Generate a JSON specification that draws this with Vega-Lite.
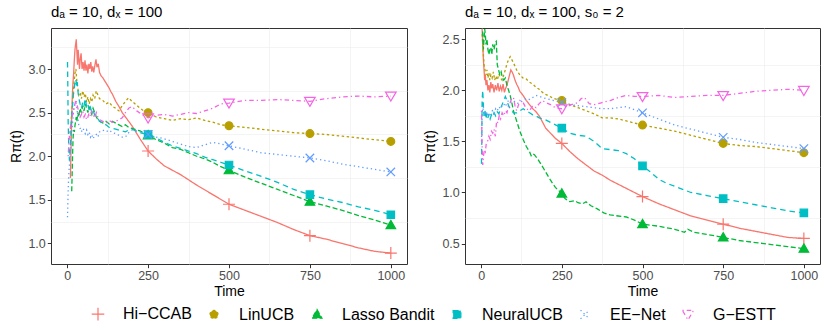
{
"$schema": "https://vega.github.io/schema/vega-lite/v6.json",
"padding": {"left": 9, "top": 4, "right": 5, "bottom": 4},
"config": {
  "font": "Liberation Sans",
  "view": {"stroke": "#333333", "strokeWidth": 1},
  "axis": {"domain": false, "labelColor": "#4D4D4D", "labelFontSize": 12.5, "labelPadding": 2, "tickColor": "#333333", "tickSize": 3.7, "tickWidth": 1, "gridColor": "#EBEBEB", "gridWidth": 1.1, "titleFontSize": 14, "titleFontWeight": "normal", "titleColor": "#000000"},
  "title": {"fontSize": 15, "fontWeight": "normal", "color": "#000000", "anchor": "start", "frame": "group", "offset": 8},
  "legend": {"labelFontSize": 16, "labelColor": "#000000", "symbolStrokeWidth": 1.2, "symbolSize": 55, "labelOffset": 17, "columnPadding": 14}
},
"datasets": {"d": [
{"p":"a","m":"Hi−CCAB","t":10,"r":1.75},{"p":"a","m":"Hi−CCAB","t":12,"r":2.1},{"p":"a","m":"Hi−CCAB","t":14,"r":2.45},{"p":"a","m":"Hi−CCAB","t":16,"r":2.7},{"p":"a","m":"Hi−CCAB","t":18,"r":2.85},{"p":"a","m":"Hi−CCAB","t":20,"r":2.95},{"p":"a","m":"Hi−CCAB","t":22,"r":3.1},{"p":"a","m":"Hi−CCAB","t":24,"r":3.22},{"p":"a","m":"Hi−CCAB","t":26,"r":3.28},{"p":"a","m":"Hi−CCAB","t":28,"r":3.34},{"p":"a","m":"Hi−CCAB","t":30,"r":3.2},{"p":"a","m":"Hi−CCAB","t":32,"r":3.05},{"p":"a","m":"Hi−CCAB","t":34,"r":3.22},{"p":"a","m":"Hi−CCAB","t":36,"r":3.12},{"p":"a","m":"Hi−CCAB","t":38,"r":3.0},{"p":"a","m":"Hi−CCAB","t":40,"r":3.1},{"p":"a","m":"Hi−CCAB","t":43,"r":3.18},{"p":"a","m":"Hi−CCAB","t":46,"r":3.0},{"p":"a","m":"Hi−CCAB","t":49,"r":3.08},{"p":"a","m":"Hi−CCAB","t":52,"r":2.98},{"p":"a","m":"Hi−CCAB","t":55,"r":3.1},{"p":"a","m":"Hi−CCAB","t":58,"r":2.98},{"p":"a","m":"Hi−CCAB","t":61,"r":3.05},{"p":"a","m":"Hi−CCAB","t":64,"r":2.95},{"p":"a","m":"Hi−CCAB","t":67,"r":3.06},{"p":"a","m":"Hi−CCAB","t":70,"r":3.0},{"p":"a","m":"Hi−CCAB","t":73,"r":3.08},{"p":"a","m":"Hi−CCAB","t":76,"r":2.97},{"p":"a","m":"Hi−CCAB","t":79,"r":3.03},{"p":"a","m":"Hi−CCAB","t":82,"r":2.96},{"p":"a","m":"Hi−CCAB","t":86,"r":3.05},{"p":"a","m":"Hi−CCAB","t":89,"r":3.11},{"p":"a","m":"Hi−CCAB","t":92,"r":3.02},{"p":"a","m":"Hi−CCAB","t":96,"r":3.06},{"p":"a","m":"Hi−CCAB","t":100,"r":2.96},{"p":"a","m":"Hi−CCAB","t":105,"r":2.92},{"p":"a","m":"Hi−CCAB","t":110,"r":2.9},{"p":"a","m":"Hi−CCAB","t":115,"r":2.87},{"p":"a","m":"Hi−CCAB","t":120,"r":2.84},{"p":"a","m":"Hi−CCAB","t":125,"r":2.81},{"p":"a","m":"Hi−CCAB","t":130,"r":2.78},{"p":"a","m":"Hi−CCAB","t":135,"r":2.74},{"p":"a","m":"Hi−CCAB","t":140,"r":2.71},{"p":"a","m":"Hi−CCAB","t":145,"r":2.67},{"p":"a","m":"Hi−CCAB","t":150,"r":2.63},{"p":"a","m":"Hi−CCAB","t":160,"r":2.57},{"p":"a","m":"Hi−CCAB","t":170,"r":2.5},{"p":"a","m":"Hi−CCAB","t":180,"r":2.45},{"p":"a","m":"Hi−CCAB","t":190,"r":2.4},{"p":"a","m":"Hi−CCAB","t":200,"r":2.35},{"p":"a","m":"Hi−CCAB","t":225,"r":2.2},{"p":"a","m":"Hi−CCAB","t":250,"r":2.06},{"p":"a","m":"Hi−CCAB","t":275,"r":1.97},{"p":"a","m":"Hi−CCAB","t":300,"r":1.89},{"p":"a","m":"Hi−CCAB","t":325,"r":1.84},{"p":"a","m":"Hi−CCAB","t":350,"r":1.79},{"p":"a","m":"Hi−CCAB","t":375,"r":1.73},{"p":"a","m":"Hi−CCAB","t":400,"r":1.67},{"p":"a","m":"Hi−CCAB","t":450,"r":1.56},{"p":"a","m":"Hi−CCAB","t":500,"r":1.45},{"p":"a","m":"Hi−CCAB","t":550,"r":1.38},{"p":"a","m":"Hi−CCAB","t":600,"r":1.31},{"p":"a","m":"Hi−CCAB","t":650,"r":1.24},{"p":"a","m":"Hi−CCAB","t":700,"r":1.16},{"p":"a","m":"Hi−CCAB","t":750,"r":1.09},{"p":"a","m":"Hi−CCAB","t":800,"r":1.05},{"p":"a","m":"Hi−CCAB","t":850,"r":1.0},{"p":"a","m":"Hi−CCAB","t":900,"r":0.95},{"p":"a","m":"Hi−CCAB","t":950,"r":0.91},{"p":"a","m":"Hi−CCAB","t":1000,"r":0.89},
{"p":"a","m":"LinUCB","t":8,"r":2.2},{"p":"a","m":"LinUCB","t":12,"r":2.4},{"p":"a","m":"LinUCB","t":16,"r":2.6},{"p":"a","m":"LinUCB","t":20,"r":2.8},{"p":"a","m":"LinUCB","t":24,"r":2.95},{"p":"a","m":"LinUCB","t":27,"r":3.0},{"p":"a","m":"LinUCB","t":30,"r":2.85},{"p":"a","m":"LinUCB","t":33,"r":2.78},{"p":"a","m":"LinUCB","t":36,"r":2.7},{"p":"a","m":"LinUCB","t":40,"r":2.73},{"p":"a","m":"LinUCB","t":44,"r":2.66},{"p":"a","m":"LinUCB","t":48,"r":2.75},{"p":"a","m":"LinUCB","t":52,"r":2.68},{"p":"a","m":"LinUCB","t":56,"r":2.72},{"p":"a","m":"LinUCB","t":60,"r":2.62},{"p":"a","m":"LinUCB","t":64,"r":2.68},{"p":"a","m":"LinUCB","t":68,"r":2.6},{"p":"a","m":"LinUCB","t":72,"r":2.66},{"p":"a","m":"LinUCB","t":76,"r":2.62},{"p":"a","m":"LinUCB","t":80,"r":2.7},{"p":"a","m":"LinUCB","t":85,"r":2.66},{"p":"a","m":"LinUCB","t":90,"r":2.75},{"p":"a","m":"LinUCB","t":95,"r":2.7},{"p":"a","m":"LinUCB","t":100,"r":2.66},{"p":"a","m":"LinUCB","t":110,"r":2.64},{"p":"a","m":"LinUCB","t":120,"r":2.6},{"p":"a","m":"LinUCB","t":130,"r":2.62},{"p":"a","m":"LinUCB","t":140,"r":2.57},{"p":"a","m":"LinUCB","t":150,"r":2.55},{"p":"a","m":"LinUCB","t":160,"r":2.52},{"p":"a","m":"LinUCB","t":170,"r":2.58},{"p":"a","m":"LinUCB","t":180,"r":2.63},{"p":"a","m":"LinUCB","t":190,"r":2.67},{"p":"a","m":"LinUCB","t":200,"r":2.63},{"p":"a","m":"LinUCB","t":210,"r":2.6},{"p":"a","m":"LinUCB","t":225,"r":2.55},{"p":"a","m":"LinUCB","t":240,"r":2.51},{"p":"a","m":"LinUCB","t":250,"r":2.5},{"p":"a","m":"LinUCB","t":275,"r":2.45},{"p":"a","m":"LinUCB","t":300,"r":2.43},{"p":"a","m":"LinUCB","t":325,"r":2.41},{"p":"a","m":"LinUCB","t":350,"r":2.43},{"p":"a","m":"LinUCB","t":375,"r":2.42},{"p":"a","m":"LinUCB","t":400,"r":2.44},{"p":"a","m":"LinUCB","t":425,"r":2.41},{"p":"a","m":"LinUCB","t":450,"r":2.39},{"p":"a","m":"LinUCB","t":475,"r":2.36},{"p":"a","m":"LinUCB","t":500,"r":2.35},{"p":"a","m":"LinUCB","t":550,"r":2.33},{"p":"a","m":"LinUCB","t":600,"r":2.31},{"p":"a","m":"LinUCB","t":650,"r":2.29},{"p":"a","m":"LinUCB","t":700,"r":2.27},{"p":"a","m":"LinUCB","t":750,"r":2.26},{"p":"a","m":"LinUCB","t":800,"r":2.25},{"p":"a","m":"LinUCB","t":850,"r":2.23},{"p":"a","m":"LinUCB","t":900,"r":2.21},{"p":"a","m":"LinUCB","t":950,"r":2.19},{"p":"a","m":"LinUCB","t":1000,"r":2.17},
{"p":"a","m":"Lasso Bandit","t":14,"r":1.6},{"p":"a","m":"Lasso Bandit","t":16,"r":1.9},{"p":"a","m":"Lasso Bandit","t":18,"r":2.2},{"p":"a","m":"Lasso Bandit","t":20,"r":2.3},{"p":"a","m":"Lasso Bandit","t":22,"r":2.28},{"p":"a","m":"Lasso Bandit","t":24,"r":2.35},{"p":"a","m":"Lasso Bandit","t":26,"r":2.4},{"p":"a","m":"Lasso Bandit","t":28,"r":2.45},{"p":"a","m":"Lasso Bandit","t":30,"r":2.4},{"p":"a","m":"Lasso Bandit","t":33,"r":2.5},{"p":"a","m":"Lasso Bandit","t":36,"r":2.45},{"p":"a","m":"Lasso Bandit","t":40,"r":2.55},{"p":"a","m":"Lasso Bandit","t":44,"r":2.5},{"p":"a","m":"Lasso Bandit","t":48,"r":2.58},{"p":"a","m":"Lasso Bandit","t":52,"r":2.52},{"p":"a","m":"Lasso Bandit","t":56,"r":2.6},{"p":"a","m":"Lasso Bandit","t":60,"r":2.55},{"p":"a","m":"Lasso Bandit","t":64,"r":2.5},{"p":"a","m":"Lasso Bandit","t":68,"r":2.57},{"p":"a","m":"Lasso Bandit","t":72,"r":2.52},{"p":"a","m":"Lasso Bandit","t":76,"r":2.48},{"p":"a","m":"Lasso Bandit","t":80,"r":2.55},{"p":"a","m":"Lasso Bandit","t":85,"r":2.5},{"p":"a","m":"Lasso Bandit","t":90,"r":2.45},{"p":"a","m":"Lasso Bandit","t":95,"r":2.42},{"p":"a","m":"Lasso Bandit","t":100,"r":2.4},{"p":"a","m":"Lasso Bandit","t":110,"r":2.38},{"p":"a","m":"Lasso Bandit","t":120,"r":2.4},{"p":"a","m":"Lasso Bandit","t":130,"r":2.37},{"p":"a","m":"Lasso Bandit","t":140,"r":2.4},{"p":"a","m":"Lasso Bandit","t":150,"r":2.38},{"p":"a","m":"Lasso Bandit","t":160,"r":2.36},{"p":"a","m":"Lasso Bandit","t":170,"r":2.34},{"p":"a","m":"Lasso Bandit","t":180,"r":2.36},{"p":"a","m":"Lasso Bandit","t":190,"r":2.33},{"p":"a","m":"Lasso Bandit","t":200,"r":2.32},{"p":"a","m":"Lasso Bandit","t":225,"r":2.29},{"p":"a","m":"Lasso Bandit","t":250,"r":2.24},{"p":"a","m":"Lasso Bandit","t":275,"r":2.19},{"p":"a","m":"Lasso Bandit","t":300,"r":2.15},{"p":"a","m":"Lasso Bandit","t":325,"r":2.1},{"p":"a","m":"Lasso Bandit","t":350,"r":2.08},{"p":"a","m":"Lasso Bandit","t":375,"r":2.04},{"p":"a","m":"Lasso Bandit","t":400,"r":2.0},{"p":"a","m":"Lasso Bandit","t":425,"r":1.97},{"p":"a","m":"Lasso Bandit","t":450,"r":1.93},{"p":"a","m":"Lasso Bandit","t":475,"r":1.88},{"p":"a","m":"Lasso Bandit","t":500,"r":1.84},{"p":"a","m":"Lasso Bandit","t":550,"r":1.76},{"p":"a","m":"Lasso Bandit","t":600,"r":1.69},{"p":"a","m":"Lasso Bandit","t":650,"r":1.62},{"p":"a","m":"Lasso Bandit","t":700,"r":1.55},{"p":"a","m":"Lasso Bandit","t":750,"r":1.48},{"p":"a","m":"Lasso Bandit","t":800,"r":1.43},{"p":"a","m":"Lasso Bandit","t":850,"r":1.38},{"p":"a","m":"Lasso Bandit","t":900,"r":1.32},{"p":"a","m":"Lasso Bandit","t":950,"r":1.27},{"p":"a","m":"Lasso Bandit","t":1000,"r":1.21},
{"p":"a","m":"NeuralUCB","t":1,"r":3.08},{"p":"a","m":"NeuralUCB","t":2,"r":2.8},{"p":"a","m":"NeuralUCB","t":3,"r":2.4},{"p":"a","m":"NeuralUCB","t":5,"r":2.1},{"p":"a","m":"NeuralUCB","t":7,"r":1.95},{"p":"a","m":"NeuralUCB","t":9,"r":2.05},{"p":"a","m":"NeuralUCB","t":11,"r":2.2},{"p":"a","m":"NeuralUCB","t":13,"r":2.35},{"p":"a","m":"NeuralUCB","t":15,"r":2.5},{"p":"a","m":"NeuralUCB","t":17,"r":2.6},{"p":"a","m":"NeuralUCB","t":19,"r":2.7},{"p":"a","m":"NeuralUCB","t":21,"r":2.75},{"p":"a","m":"NeuralUCB","t":23,"r":2.82},{"p":"a","m":"NeuralUCB","t":25,"r":2.86},{"p":"a","m":"NeuralUCB","t":27,"r":2.88},{"p":"a","m":"NeuralUCB","t":29,"r":2.8},{"p":"a","m":"NeuralUCB","t":31,"r":2.85},{"p":"a","m":"NeuralUCB","t":34,"r":2.72},{"p":"a","m":"NeuralUCB","t":37,"r":2.65},{"p":"a","m":"NeuralUCB","t":40,"r":2.6},{"p":"a","m":"NeuralUCB","t":44,"r":2.55},{"p":"a","m":"NeuralUCB","t":48,"r":2.62},{"p":"a","m":"NeuralUCB","t":52,"r":2.58},{"p":"a","m":"NeuralUCB","t":56,"r":2.66},{"p":"a","m":"NeuralUCB","t":60,"r":2.57},{"p":"a","m":"NeuralUCB","t":64,"r":2.6},{"p":"a","m":"NeuralUCB","t":68,"r":2.52},{"p":"a","m":"NeuralUCB","t":72,"r":2.56},{"p":"a","m":"NeuralUCB","t":76,"r":2.5},{"p":"a","m":"NeuralUCB","t":80,"r":2.53},{"p":"a","m":"NeuralUCB","t":85,"r":2.47},{"p":"a","m":"NeuralUCB","t":90,"r":2.45},{"p":"a","m":"NeuralUCB","t":95,"r":2.43},{"p":"a","m":"NeuralUCB","t":100,"r":2.4},{"p":"a","m":"NeuralUCB","t":110,"r":2.38},{"p":"a","m":"NeuralUCB","t":120,"r":2.36},{"p":"a","m":"NeuralUCB","t":130,"r":2.33},{"p":"a","m":"NeuralUCB","t":140,"r":2.32},{"p":"a","m":"NeuralUCB","t":150,"r":2.31},{"p":"a","m":"NeuralUCB","t":160,"r":2.3},{"p":"a","m":"NeuralUCB","t":170,"r":2.29},{"p":"a","m":"NeuralUCB","t":180,"r":2.28},{"p":"a","m":"NeuralUCB","t":190,"r":2.3},{"p":"a","m":"NeuralUCB","t":200,"r":2.31},{"p":"a","m":"NeuralUCB","t":225,"r":2.27},{"p":"a","m":"NeuralUCB","t":250,"r":2.25},{"p":"a","m":"NeuralUCB","t":275,"r":2.21},{"p":"a","m":"NeuralUCB","t":300,"r":2.16},{"p":"a","m":"NeuralUCB","t":325,"r":2.12},{"p":"a","m":"NeuralUCB","t":350,"r":2.09},{"p":"a","m":"NeuralUCB","t":375,"r":2.06},{"p":"a","m":"NeuralUCB","t":400,"r":2.03},{"p":"a","m":"NeuralUCB","t":425,"r":1.99},{"p":"a","m":"NeuralUCB","t":450,"r":1.96},{"p":"a","m":"NeuralUCB","t":475,"r":1.93},{"p":"a","m":"NeuralUCB","t":500,"r":1.9},{"p":"a","m":"NeuralUCB","t":550,"r":1.83},{"p":"a","m":"NeuralUCB","t":600,"r":1.77},{"p":"a","m":"NeuralUCB","t":650,"r":1.7},{"p":"a","m":"NeuralUCB","t":700,"r":1.62},{"p":"a","m":"NeuralUCB","t":750,"r":1.56},{"p":"a","m":"NeuralUCB","t":800,"r":1.51},{"p":"a","m":"NeuralUCB","t":850,"r":1.47},{"p":"a","m":"NeuralUCB","t":900,"r":1.42},{"p":"a","m":"NeuralUCB","t":950,"r":1.38},{"p":"a","m":"NeuralUCB","t":1000,"r":1.33},
{"p":"a","m":"EE−Net","t":1,"r":1.3},{"p":"a","m":"EE−Net","t":3,"r":1.6},{"p":"a","m":"EE−Net","t":5,"r":1.8},{"p":"a","m":"EE−Net","t":7,"r":1.9},{"p":"a","m":"EE−Net","t":9,"r":2.0},{"p":"a","m":"EE−Net","t":11,"r":2.1},{"p":"a","m":"EE−Net","t":13,"r":2.2},{"p":"a","m":"EE−Net","t":15,"r":2.3},{"p":"a","m":"EE−Net","t":18,"r":2.45},{"p":"a","m":"EE−Net","t":21,"r":2.55},{"p":"a","m":"EE−Net","t":24,"r":2.6},{"p":"a","m":"EE−Net","t":27,"r":2.62},{"p":"a","m":"EE−Net","t":30,"r":2.55},{"p":"a","m":"EE−Net","t":33,"r":2.45},{"p":"a","m":"EE−Net","t":36,"r":2.35},{"p":"a","m":"EE−Net","t":40,"r":2.32},{"p":"a","m":"EE−Net","t":44,"r":2.28},{"p":"a","m":"EE−Net","t":48,"r":2.32},{"p":"a","m":"EE−Net","t":52,"r":2.3},{"p":"a","m":"EE−Net","t":56,"r":2.26},{"p":"a","m":"EE−Net","t":60,"r":2.3},{"p":"a","m":"EE−Net","t":64,"r":2.25},{"p":"a","m":"EE−Net","t":68,"r":2.28},{"p":"a","m":"EE−Net","t":72,"r":2.22},{"p":"a","m":"EE−Net","t":76,"r":2.25},{"p":"a","m":"EE−Net","t":80,"r":2.2},{"p":"a","m":"EE−Net","t":85,"r":2.24},{"p":"a","m":"EE−Net","t":90,"r":2.25},{"p":"a","m":"EE−Net","t":95,"r":2.22},{"p":"a","m":"EE−Net","t":100,"r":2.28},{"p":"a","m":"EE−Net","t":110,"r":2.3},{"p":"a","m":"EE−Net","t":120,"r":2.28},{"p":"a","m":"EE−Net","t":130,"r":2.3},{"p":"a","m":"EE−Net","t":140,"r":2.27},{"p":"a","m":"EE−Net","t":150,"r":2.26},{"p":"a","m":"EE−Net","t":160,"r":2.24},{"p":"a","m":"EE−Net","t":170,"r":2.22},{"p":"a","m":"EE−Net","t":180,"r":2.22},{"p":"a","m":"EE−Net","t":190,"r":2.27},{"p":"a","m":"EE−Net","t":200,"r":2.3},{"p":"a","m":"EE−Net","t":225,"r":2.28},{"p":"a","m":"EE−Net","t":250,"r":2.25},{"p":"a","m":"EE−Net","t":275,"r":2.22},{"p":"a","m":"EE−Net","t":300,"r":2.2},{"p":"a","m":"EE−Net","t":325,"r":2.17},{"p":"a","m":"EE−Net","t":350,"r":2.14},{"p":"a","m":"EE−Net","t":375,"r":2.11},{"p":"a","m":"EE−Net","t":400,"r":2.1},{"p":"a","m":"EE−Net","t":425,"r":2.13},{"p":"a","m":"EE−Net","t":450,"r":2.16},{"p":"a","m":"EE−Net","t":475,"r":2.14},{"p":"a","m":"EE−Net","t":500,"r":2.12},{"p":"a","m":"EE−Net","t":550,"r":2.08},{"p":"a","m":"EE−Net","t":600,"r":2.04},{"p":"a","m":"EE−Net","t":650,"r":2.02},{"p":"a","m":"EE−Net","t":700,"r":2.0},{"p":"a","m":"EE−Net","t":750,"r":1.98},{"p":"a","m":"EE−Net","t":800,"r":1.95},{"p":"a","m":"EE−Net","t":850,"r":1.91},{"p":"a","m":"EE−Net","t":900,"r":1.88},{"p":"a","m":"EE−Net","t":950,"r":1.85},{"p":"a","m":"EE−Net","t":1000,"r":1.82},
{"p":"a","m":"G−ESTT","t":3,"r":2.0},{"p":"a","m":"G−ESTT","t":6,"r":2.2},{"p":"a","m":"G−ESTT","t":9,"r":2.3},{"p":"a","m":"G−ESTT","t":12,"r":2.4},{"p":"a","m":"G−ESTT","t":15,"r":2.45},{"p":"a","m":"G−ESTT","t":18,"r":2.5},{"p":"a","m":"G−ESTT","t":21,"r":2.55},{"p":"a","m":"G−ESTT","t":24,"r":2.6},{"p":"a","m":"G−ESTT","t":27,"r":2.65},{"p":"a","m":"G−ESTT","t":30,"r":2.6},{"p":"a","m":"G−ESTT","t":33,"r":2.55},{"p":"a","m":"G−ESTT","t":36,"r":2.5},{"p":"a","m":"G−ESTT","t":40,"r":2.45},{"p":"a","m":"G−ESTT","t":44,"r":2.48},{"p":"a","m":"G−ESTT","t":48,"r":2.52},{"p":"a","m":"G−ESTT","t":52,"r":2.45},{"p":"a","m":"G−ESTT","t":56,"r":2.48},{"p":"a","m":"G−ESTT","t":60,"r":2.42},{"p":"a","m":"G−ESTT","t":64,"r":2.45},{"p":"a","m":"G−ESTT","t":68,"r":2.5},{"p":"a","m":"G−ESTT","t":72,"r":2.46},{"p":"a","m":"G−ESTT","t":76,"r":2.52},{"p":"a","m":"G−ESTT","t":80,"r":2.48},{"p":"a","m":"G−ESTT","t":85,"r":2.44},{"p":"a","m":"G−ESTT","t":90,"r":2.5},{"p":"a","m":"G−ESTT","t":95,"r":2.45},{"p":"a","m":"G−ESTT","t":100,"r":2.42},{"p":"a","m":"G−ESTT","t":110,"r":2.4},{"p":"a","m":"G−ESTT","t":120,"r":2.38},{"p":"a","m":"G−ESTT","t":130,"r":2.41},{"p":"a","m":"G−ESTT","t":140,"r":2.39},{"p":"a","m":"G−ESTT","t":150,"r":2.4},{"p":"a","m":"G−ESTT","t":160,"r":2.42},{"p":"a","m":"G−ESTT","t":170,"r":2.44},{"p":"a","m":"G−ESTT","t":180,"r":2.5},{"p":"a","m":"G−ESTT","t":190,"r":2.55},{"p":"a","m":"G−ESTT","t":200,"r":2.57},{"p":"a","m":"G−ESTT","t":215,"r":2.52},{"p":"a","m":"G−ESTT","t":230,"r":2.48},{"p":"a","m":"G−ESTT","t":250,"r":2.44},{"p":"a","m":"G−ESTT","t":275,"r":2.47},{"p":"a","m":"G−ESTT","t":300,"r":2.48},{"p":"a","m":"G−ESTT","t":325,"r":2.46},{"p":"a","m":"G−ESTT","t":350,"r":2.48},{"p":"a","m":"G−ESTT","t":375,"r":2.5},{"p":"a","m":"G−ESTT","t":400,"r":2.49},{"p":"a","m":"G−ESTT","t":425,"r":2.52},{"p":"a","m":"G−ESTT","t":450,"r":2.55},{"p":"a","m":"G−ESTT","t":475,"r":2.6},{"p":"a","m":"G−ESTT","t":500,"r":2.61},{"p":"a","m":"G−ESTT","t":550,"r":2.64},{"p":"a","m":"G−ESTT","t":600,"r":2.64},{"p":"a","m":"G−ESTT","t":650,"r":2.65},{"p":"a","m":"G−ESTT","t":700,"r":2.64},{"p":"a","m":"G−ESTT","t":750,"r":2.63},{"p":"a","m":"G−ESTT","t":800,"r":2.66},{"p":"a","m":"G−ESTT","t":850,"r":2.68},{"p":"a","m":"G−ESTT","t":900,"r":2.69},{"p":"a","m":"G−ESTT","t":950,"r":2.68},{"p":"a","m":"G−ESTT","t":1000,"r":2.69},
{"p":"b","m":"Hi−CCAB","t":3,"r":2.6},{"p":"b","m":"Hi−CCAB","t":5,"r":2.45},{"p":"b","m":"Hi−CCAB","t":7,"r":2.3},{"p":"b","m":"Hi−CCAB","t":9,"r":2.2},{"p":"b","m":"Hi−CCAB","t":11,"r":2.1},{"p":"b","m":"Hi−CCAB","t":13,"r":2.15},{"p":"b","m":"Hi−CCAB","t":15,"r":2.05},{"p":"b","m":"Hi−CCAB","t":18,"r":2.1},{"p":"b","m":"Hi−CCAB","t":21,"r":2.0},{"p":"b","m":"Hi−CCAB","t":24,"r":2.05},{"p":"b","m":"Hi−CCAB","t":27,"r":1.98},{"p":"b","m":"Hi−CCAB","t":30,"r":2.08},{"p":"b","m":"Hi−CCAB","t":33,"r":2.02},{"p":"b","m":"Hi−CCAB","t":36,"r":2.06},{"p":"b","m":"Hi−CCAB","t":40,"r":1.98},{"p":"b","m":"Hi−CCAB","t":44,"r":2.05},{"p":"b","m":"Hi−CCAB","t":48,"r":2.0},{"p":"b","m":"Hi−CCAB","t":52,"r":2.07},{"p":"b","m":"Hi−CCAB","t":56,"r":1.99},{"p":"b","m":"Hi−CCAB","t":60,"r":2.04},{"p":"b","m":"Hi−CCAB","t":64,"r":2.0},{"p":"b","m":"Hi−CCAB","t":68,"r":2.06},{"p":"b","m":"Hi−CCAB","t":72,"r":1.98},{"p":"b","m":"Hi−CCAB","t":76,"r":2.02},{"p":"b","m":"Hi−CCAB","t":80,"r":2.05},{"p":"b","m":"Hi−CCAB","t":84,"r":2.1},{"p":"b","m":"Hi−CCAB","t":88,"r":2.15},{"p":"b","m":"Hi−CCAB","t":92,"r":2.2},{"p":"b","m":"Hi−CCAB","t":96,"r":2.18},{"p":"b","m":"Hi−CCAB","t":100,"r":2.15},{"p":"b","m":"Hi−CCAB","t":105,"r":2.1},{"p":"b","m":"Hi−CCAB","t":110,"r":2.06},{"p":"b","m":"Hi−CCAB","t":115,"r":2.03},{"p":"b","m":"Hi−CCAB","t":120,"r":1.99},{"p":"b","m":"Hi−CCAB","t":130,"r":1.95},{"p":"b","m":"Hi−CCAB","t":140,"r":1.9},{"p":"b","m":"Hi−CCAB","t":150,"r":1.86},{"p":"b","m":"Hi−CCAB","t":160,"r":1.82},{"p":"b","m":"Hi−CCAB","t":170,"r":1.79},{"p":"b","m":"Hi−CCAB","t":180,"r":1.75},{"p":"b","m":"Hi−CCAB","t":190,"r":1.69},{"p":"b","m":"Hi−CCAB","t":200,"r":1.63},{"p":"b","m":"Hi−CCAB","t":215,"r":1.58},{"p":"b","m":"Hi−CCAB","t":230,"r":1.53},{"p":"b","m":"Hi−CCAB","t":250,"r":1.48},{"p":"b","m":"Hi−CCAB","t":275,"r":1.4},{"p":"b","m":"Hi−CCAB","t":300,"r":1.33},{"p":"b","m":"Hi−CCAB","t":325,"r":1.27},{"p":"b","m":"Hi−CCAB","t":350,"r":1.21},{"p":"b","m":"Hi−CCAB","t":375,"r":1.17},{"p":"b","m":"Hi−CCAB","t":400,"r":1.12},{"p":"b","m":"Hi−CCAB","t":425,"r":1.08},{"p":"b","m":"Hi−CCAB","t":450,"r":1.04},{"p":"b","m":"Hi−CCAB","t":475,"r":1.0},{"p":"b","m":"Hi−CCAB","t":500,"r":0.96},{"p":"b","m":"Hi−CCAB","t":550,"r":0.89},{"p":"b","m":"Hi−CCAB","t":600,"r":0.83},{"p":"b","m":"Hi−CCAB","t":650,"r":0.77},{"p":"b","m":"Hi−CCAB","t":700,"r":0.73},{"p":"b","m":"Hi−CCAB","t":750,"r":0.69},{"p":"b","m":"Hi−CCAB","t":800,"r":0.65},{"p":"b","m":"Hi−CCAB","t":850,"r":0.62},{"p":"b","m":"Hi−CCAB","t":900,"r":0.59},{"p":"b","m":"Hi−CCAB","t":950,"r":0.56},{"p":"b","m":"Hi−CCAB","t":1000,"r":0.55},
{"p":"b","m":"LinUCB","t":3,"r":2.55},{"p":"b","m":"LinUCB","t":5,"r":2.45},{"p":"b","m":"LinUCB","t":7,"r":2.35},{"p":"b","m":"LinUCB","t":9,"r":2.25},{"p":"b","m":"LinUCB","t":12,"r":2.2},{"p":"b","m":"LinUCB","t":15,"r":2.15},{"p":"b","m":"LinUCB","t":18,"r":2.2},{"p":"b","m":"LinUCB","t":21,"r":2.12},{"p":"b","m":"LinUCB","t":24,"r":2.17},{"p":"b","m":"LinUCB","t":27,"r":2.1},{"p":"b","m":"LinUCB","t":30,"r":2.15},{"p":"b","m":"LinUCB","t":34,"r":2.12},{"p":"b","m":"LinUCB","t":38,"r":2.18},{"p":"b","m":"LinUCB","t":42,"r":2.1},{"p":"b","m":"LinUCB","t":46,"r":2.14},{"p":"b","m":"LinUCB","t":50,"r":2.1},{"p":"b","m":"LinUCB","t":55,"r":2.16},{"p":"b","m":"LinUCB","t":60,"r":2.12},{"p":"b","m":"LinUCB","t":65,"r":2.1},{"p":"b","m":"LinUCB","t":70,"r":2.15},{"p":"b","m":"LinUCB","t":75,"r":2.2},{"p":"b","m":"LinUCB","t":80,"r":2.26},{"p":"b","m":"LinUCB","t":85,"r":2.3},{"p":"b","m":"LinUCB","t":90,"r":2.33},{"p":"b","m":"LinUCB","t":95,"r":2.3},{"p":"b","m":"LinUCB","t":100,"r":2.27},{"p":"b","m":"LinUCB","t":110,"r":2.2},{"p":"b","m":"LinUCB","t":120,"r":2.15},{"p":"b","m":"LinUCB","t":130,"r":2.12},{"p":"b","m":"LinUCB","t":140,"r":2.11},{"p":"b","m":"LinUCB","t":150,"r":2.08},{"p":"b","m":"LinUCB","t":160,"r":2.06},{"p":"b","m":"LinUCB","t":170,"r":2.03},{"p":"b","m":"LinUCB","t":180,"r":2.01},{"p":"b","m":"LinUCB","t":190,"r":1.98},{"p":"b","m":"LinUCB","t":200,"r":1.96},{"p":"b","m":"LinUCB","t":225,"r":1.92},{"p":"b","m":"LinUCB","t":250,"r":1.9},{"p":"b","m":"LinUCB","t":275,"r":1.86},{"p":"b","m":"LinUCB","t":300,"r":1.83},{"p":"b","m":"LinUCB","t":325,"r":1.8},{"p":"b","m":"LinUCB","t":350,"r":1.77},{"p":"b","m":"LinUCB","t":375,"r":1.73},{"p":"b","m":"LinUCB","t":400,"r":1.73},{"p":"b","m":"LinUCB","t":425,"r":1.72},{"p":"b","m":"LinUCB","t":450,"r":1.7},{"p":"b","m":"LinUCB","t":475,"r":1.68},{"p":"b","m":"LinUCB","t":500,"r":1.66},{"p":"b","m":"LinUCB","t":550,"r":1.63},{"p":"b","m":"LinUCB","t":600,"r":1.6},{"p":"b","m":"LinUCB","t":650,"r":1.56},{"p":"b","m":"LinUCB","t":700,"r":1.52},{"p":"b","m":"LinUCB","t":750,"r":1.48},{"p":"b","m":"LinUCB","t":800,"r":1.46},{"p":"b","m":"LinUCB","t":850,"r":1.45},{"p":"b","m":"LinUCB","t":900,"r":1.43},{"p":"b","m":"LinUCB","t":950,"r":1.41},{"p":"b","m":"LinUCB","t":1000,"r":1.39},
{"p":"b","m":"Lasso Bandit","t":3,"r":2.65},{"p":"b","m":"Lasso Bandit","t":5,"r":2.55},{"p":"b","m":"Lasso Bandit","t":7,"r":2.4},{"p":"b","m":"Lasso Bandit","t":9,"r":2.5},{"p":"b","m":"Lasso Bandit","t":11,"r":2.6},{"p":"b","m":"Lasso Bandit","t":13,"r":2.55},{"p":"b","m":"Lasso Bandit","t":15,"r":2.45},{"p":"b","m":"Lasso Bandit","t":18,"r":2.5},{"p":"b","m":"Lasso Bandit","t":21,"r":2.4},{"p":"b","m":"Lasso Bandit","t":24,"r":2.35},{"p":"b","m":"Lasso Bandit","t":27,"r":2.4},{"p":"b","m":"Lasso Bandit","t":30,"r":2.42},{"p":"b","m":"Lasso Bandit","t":33,"r":2.35},{"p":"b","m":"Lasso Bandit","t":36,"r":2.45},{"p":"b","m":"Lasso Bandit","t":40,"r":2.4},{"p":"b","m":"Lasso Bandit","t":44,"r":2.47},{"p":"b","m":"Lasso Bandit","t":47,"r":2.48},{"p":"b","m":"Lasso Bandit","t":50,"r":2.25},{"p":"b","m":"Lasso Bandit","t":54,"r":2.2},{"p":"b","m":"Lasso Bandit","t":58,"r":2.15},{"p":"b","m":"Lasso Bandit","t":62,"r":2.18},{"p":"b","m":"Lasso Bandit","t":66,"r":2.12},{"p":"b","m":"Lasso Bandit","t":70,"r":2.1},{"p":"b","m":"Lasso Bandit","t":75,"r":2.12},{"p":"b","m":"Lasso Bandit","t":80,"r":2.05},{"p":"b","m":"Lasso Bandit","t":85,"r":2.0},{"p":"b","m":"Lasso Bandit","t":90,"r":1.95},{"p":"b","m":"Lasso Bandit","t":95,"r":1.88},{"p":"b","m":"Lasso Bandit","t":100,"r":1.8},{"p":"b","m":"Lasso Bandit","t":110,"r":1.7},{"p":"b","m":"Lasso Bandit","t":120,"r":1.6},{"p":"b","m":"Lasso Bandit","t":130,"r":1.52},{"p":"b","m":"Lasso Bandit","t":140,"r":1.45},{"p":"b","m":"Lasso Bandit","t":150,"r":1.4},{"p":"b","m":"Lasso Bandit","t":155,"r":1.36},{"p":"b","m":"Lasso Bandit","t":160,"r":1.38},{"p":"b","m":"Lasso Bandit","t":165,"r":1.37},{"p":"b","m":"Lasso Bandit","t":175,"r":1.33},{"p":"b","m":"Lasso Bandit","t":185,"r":1.28},{"p":"b","m":"Lasso Bandit","t":200,"r":1.2},{"p":"b","m":"Lasso Bandit","t":215,"r":1.12},{"p":"b","m":"Lasso Bandit","t":230,"r":1.05},{"p":"b","m":"Lasso Bandit","t":250,"r":0.99},{"p":"b","m":"Lasso Bandit","t":260,"r":0.94},{"p":"b","m":"Lasso Bandit","t":275,"r":0.91},{"p":"b","m":"Lasso Bandit","t":290,"r":0.92},{"p":"b","m":"Lasso Bandit","t":300,"r":0.9},{"p":"b","m":"Lasso Bandit","t":315,"r":0.89},{"p":"b","m":"Lasso Bandit","t":325,"r":0.91},{"p":"b","m":"Lasso Bandit","t":340,"r":0.87},{"p":"b","m":"Lasso Bandit","t":360,"r":0.84},{"p":"b","m":"Lasso Bandit","t":380,"r":0.8},{"p":"b","m":"Lasso Bandit","t":400,"r":0.78},{"p":"b","m":"Lasso Bandit","t":425,"r":0.77},{"p":"b","m":"Lasso Bandit","t":450,"r":0.76},{"p":"b","m":"Lasso Bandit","t":475,"r":0.73},{"p":"b","m":"Lasso Bandit","t":500,"r":0.69},{"p":"b","m":"Lasso Bandit","t":550,"r":0.67},{"p":"b","m":"Lasso Bandit","t":600,"r":0.64},{"p":"b","m":"Lasso Bandit","t":630,"r":0.61},{"p":"b","m":"Lasso Bandit","t":640,"r":0.64},{"p":"b","m":"Lasso Bandit","t":660,"r":0.61},{"p":"b","m":"Lasso Bandit","t":700,"r":0.59},{"p":"b","m":"Lasso Bandit","t":750,"r":0.56},{"p":"b","m":"Lasso Bandit","t":800,"r":0.53},{"p":"b","m":"Lasso Bandit","t":850,"r":0.51},{"p":"b","m":"Lasso Bandit","t":900,"r":0.49},{"p":"b","m":"Lasso Bandit","t":950,"r":0.47},{"p":"b","m":"Lasso Bandit","t":1000,"r":0.45},
{"p":"b","m":"NeuralUCB","t":1,"r":1.28},{"p":"b","m":"NeuralUCB","t":2,"r":1.5},{"p":"b","m":"NeuralUCB","t":3,"r":1.9},{"p":"b","m":"NeuralUCB","t":5,"r":2.0},{"p":"b","m":"NeuralUCB","t":7,"r":1.85},{"p":"b","m":"NeuralUCB","t":9,"r":1.75},{"p":"b","m":"NeuralUCB","t":12,"r":1.8},{"p":"b","m":"NeuralUCB","t":15,"r":1.72},{"p":"b","m":"NeuralUCB","t":18,"r":1.78},{"p":"b","m":"NeuralUCB","t":21,"r":1.73},{"p":"b","m":"NeuralUCB","t":24,"r":1.77},{"p":"b","m":"NeuralUCB","t":28,"r":1.72},{"p":"b","m":"NeuralUCB","t":32,"r":1.76},{"p":"b","m":"NeuralUCB","t":36,"r":1.74},{"p":"b","m":"NeuralUCB","t":40,"r":1.78},{"p":"b","m":"NeuralUCB","t":45,"r":1.75},{"p":"b","m":"NeuralUCB","t":50,"r":1.79},{"p":"b","m":"NeuralUCB","t":55,"r":1.77},{"p":"b","m":"NeuralUCB","t":60,"r":1.82},{"p":"b","m":"NeuralUCB","t":65,"r":1.86},{"p":"b","m":"NeuralUCB","t":70,"r":1.9},{"p":"b","m":"NeuralUCB","t":75,"r":1.94},{"p":"b","m":"NeuralUCB","t":80,"r":1.9},{"p":"b","m":"NeuralUCB","t":85,"r":1.85},{"p":"b","m":"NeuralUCB","t":90,"r":1.82},{"p":"b","m":"NeuralUCB","t":95,"r":1.8},{"p":"b","m":"NeuralUCB","t":100,"r":1.78},{"p":"b","m":"NeuralUCB","t":110,"r":1.78},{"p":"b","m":"NeuralUCB","t":120,"r":1.8},{"p":"b","m":"NeuralUCB","t":130,"r":1.82},{"p":"b","m":"NeuralUCB","t":140,"r":1.8},{"p":"b","m":"NeuralUCB","t":150,"r":1.78},{"p":"b","m":"NeuralUCB","t":160,"r":1.76},{"p":"b","m":"NeuralUCB","t":170,"r":1.75},{"p":"b","m":"NeuralUCB","t":180,"r":1.73},{"p":"b","m":"NeuralUCB","t":190,"r":1.72},{"p":"b","m":"NeuralUCB","t":200,"r":1.71},{"p":"b","m":"NeuralUCB","t":225,"r":1.67},{"p":"b","m":"NeuralUCB","t":250,"r":1.63},{"p":"b","m":"NeuralUCB","t":275,"r":1.58},{"p":"b","m":"NeuralUCB","t":300,"r":1.56},{"p":"b","m":"NeuralUCB","t":325,"r":1.55},{"p":"b","m":"NeuralUCB","t":350,"r":1.5},{"p":"b","m":"NeuralUCB","t":375,"r":1.43},{"p":"b","m":"NeuralUCB","t":400,"r":1.42},{"p":"b","m":"NeuralUCB","t":425,"r":1.41},{"p":"b","m":"NeuralUCB","t":450,"r":1.38},{"p":"b","m":"NeuralUCB","t":475,"r":1.33},{"p":"b","m":"NeuralUCB","t":500,"r":1.26},{"p":"b","m":"NeuralUCB","t":525,"r":1.2},{"p":"b","m":"NeuralUCB","t":550,"r":1.13},{"p":"b","m":"NeuralUCB","t":575,"r":1.09},{"p":"b","m":"NeuralUCB","t":600,"r":1.06},{"p":"b","m":"NeuralUCB","t":650,"r":1.0},{"p":"b","m":"NeuralUCB","t":700,"r":0.97},{"p":"b","m":"NeuralUCB","t":750,"r":0.94},{"p":"b","m":"NeuralUCB","t":800,"r":0.91},{"p":"b","m":"NeuralUCB","t":850,"r":0.88},{"p":"b","m":"NeuralUCB","t":900,"r":0.85},{"p":"b","m":"NeuralUCB","t":950,"r":0.82},{"p":"b","m":"NeuralUCB","t":1000,"r":0.8},
{"p":"b","m":"EE−Net","t":1,"r":1.5},{"p":"b","m":"EE−Net","t":3,"r":1.75},{"p":"b","m":"EE−Net","t":5,"r":1.85},{"p":"b","m":"EE−Net","t":7,"r":1.8},{"p":"b","m":"EE−Net","t":10,"r":1.78},{"p":"b","m":"EE−Net","t":14,"r":1.8},{"p":"b","m":"EE−Net","t":18,"r":1.75},{"p":"b","m":"EE−Net","t":22,"r":1.78},{"p":"b","m":"EE−Net","t":26,"r":1.74},{"p":"b","m":"EE−Net","t":30,"r":1.78},{"p":"b","m":"EE−Net","t":35,"r":1.8},{"p":"b","m":"EE−Net","t":40,"r":1.77},{"p":"b","m":"EE−Net","t":45,"r":1.82},{"p":"b","m":"EE−Net","t":50,"r":1.8},{"p":"b","m":"EE−Net","t":55,"r":1.84},{"p":"b","m":"EE−Net","t":60,"r":1.82},{"p":"b","m":"EE−Net","t":65,"r":1.85},{"p":"b","m":"EE−Net","t":70,"r":1.87},{"p":"b","m":"EE−Net","t":75,"r":1.84},{"p":"b","m":"EE−Net","t":80,"r":1.88},{"p":"b","m":"EE−Net","t":85,"r":1.9},{"p":"b","m":"EE−Net","t":90,"r":1.88},{"p":"b","m":"EE−Net","t":100,"r":1.9},{"p":"b","m":"EE−Net","t":110,"r":1.87},{"p":"b","m":"EE−Net","t":120,"r":1.88},{"p":"b","m":"EE−Net","t":130,"r":1.9},{"p":"b","m":"EE−Net","t":140,"r":1.92},{"p":"b","m":"EE−Net","t":150,"r":1.91},{"p":"b","m":"EE−Net","t":160,"r":1.93},{"p":"b","m":"EE−Net","t":170,"r":1.95},{"p":"b","m":"EE−Net","t":180,"r":1.94},{"p":"b","m":"EE−Net","t":190,"r":1.93},{"p":"b","m":"EE−Net","t":200,"r":1.92},{"p":"b","m":"EE−Net","t":225,"r":1.9},{"p":"b","m":"EE−Net","t":250,"r":1.88},{"p":"b","m":"EE−Net","t":275,"r":1.86},{"p":"b","m":"EE−Net","t":300,"r":1.85},{"p":"b","m":"EE−Net","t":325,"r":1.84},{"p":"b","m":"EE−Net","t":350,"r":1.83},{"p":"b","m":"EE−Net","t":375,"r":1.82},{"p":"b","m":"EE−Net","t":400,"r":1.82},{"p":"b","m":"EE−Net","t":425,"r":1.83},{"p":"b","m":"EE−Net","t":450,"r":1.84},{"p":"b","m":"EE−Net","t":475,"r":1.81},{"p":"b","m":"EE−Net","t":500,"r":1.78},{"p":"b","m":"EE−Net","t":550,"r":1.72},{"p":"b","m":"EE−Net","t":600,"r":1.66},{"p":"b","m":"EE−Net","t":650,"r":1.62},{"p":"b","m":"EE−Net","t":700,"r":1.58},{"p":"b","m":"EE−Net","t":750,"r":1.54},{"p":"b","m":"EE−Net","t":800,"r":1.52},{"p":"b","m":"EE−Net","t":850,"r":1.49},{"p":"b","m":"EE−Net","t":900,"r":1.47},{"p":"b","m":"EE−Net","t":950,"r":1.45},{"p":"b","m":"EE−Net","t":1000,"r":1.43},
{"p":"b","m":"G−ESTT","t":1,"r":1.8},{"p":"b","m":"G−ESTT","t":3,"r":1.45},{"p":"b","m":"G−ESTT","t":5,"r":1.27},{"p":"b","m":"G−ESTT","t":7,"r":1.35},{"p":"b","m":"G−ESTT","t":10,"r":1.42},{"p":"b","m":"G−ESTT","t":13,"r":1.4},{"p":"b","m":"G−ESTT","t":16,"r":1.48},{"p":"b","m":"G−ESTT","t":20,"r":1.5},{"p":"b","m":"G−ESTT","t":24,"r":1.55},{"p":"b","m":"G−ESTT","t":28,"r":1.52},{"p":"b","m":"G−ESTT","t":32,"r":1.6},{"p":"b","m":"G−ESTT","t":36,"r":1.58},{"p":"b","m":"G−ESTT","t":40,"r":1.62},{"p":"b","m":"G−ESTT","t":44,"r":1.55},{"p":"b","m":"G−ESTT","t":48,"r":1.7},{"p":"b","m":"G−ESTT","t":52,"r":1.68},{"p":"b","m":"G−ESTT","t":56,"r":1.75},{"p":"b","m":"G−ESTT","t":60,"r":1.72},{"p":"b","m":"G−ESTT","t":65,"r":1.78},{"p":"b","m":"G−ESTT","t":70,"r":1.75},{"p":"b","m":"G−ESTT","t":75,"r":1.8},{"p":"b","m":"G−ESTT","t":80,"r":1.78},{"p":"b","m":"G−ESTT","t":85,"r":1.85},{"p":"b","m":"G−ESTT","t":90,"r":1.88},{"p":"b","m":"G−ESTT","t":95,"r":1.92},{"p":"b","m":"G−ESTT","t":100,"r":1.93},{"p":"b","m":"G−ESTT","t":105,"r":1.85},{"p":"b","m":"G−ESTT","t":110,"r":1.8},{"p":"b","m":"G−ESTT","t":115,"r":1.85},{"p":"b","m":"G−ESTT","t":120,"r":1.9},{"p":"b","m":"G−ESTT","t":130,"r":1.88},{"p":"b","m":"G−ESTT","t":140,"r":1.82},{"p":"b","m":"G−ESTT","t":150,"r":1.8},{"p":"b","m":"G−ESTT","t":160,"r":1.85},{"p":"b","m":"G−ESTT","t":170,"r":1.83},{"p":"b","m":"G−ESTT","t":180,"r":1.87},{"p":"b","m":"G−ESTT","t":190,"r":1.9},{"p":"b","m":"G−ESTT","t":200,"r":1.88},{"p":"b","m":"G−ESTT","t":215,"r":1.86},{"p":"b","m":"G−ESTT","t":230,"r":1.83},{"p":"b","m":"G−ESTT","t":250,"r":1.82},{"p":"b","m":"G−ESTT","t":265,"r":1.84},{"p":"b","m":"G−ESTT","t":280,"r":1.86},{"p":"b","m":"G−ESTT","t":300,"r":1.88},{"p":"b","m":"G−ESTT","t":310,"r":1.92},{"p":"b","m":"G−ESTT","t":320,"r":1.93},{"p":"b","m":"G−ESTT","t":335,"r":1.87},{"p":"b","m":"G−ESTT","t":350,"r":1.86},{"p":"b","m":"G−ESTT","t":375,"r":1.88},{"p":"b","m":"G−ESTT","t":400,"r":1.9},{"p":"b","m":"G−ESTT","t":425,"r":1.93},{"p":"b","m":"G−ESTT","t":450,"r":1.95},{"p":"b","m":"G−ESTT","t":475,"r":1.94},{"p":"b","m":"G−ESTT","t":500,"r":1.94},{"p":"b","m":"G−ESTT","t":550,"r":1.95},{"p":"b","m":"G−ESTT","t":600,"r":1.93},{"p":"b","m":"G−ESTT","t":650,"r":1.94},{"p":"b","m":"G−ESTT","t":700,"r":1.95},{"p":"b","m":"G−ESTT","t":750,"r":1.95},{"p":"b","m":"G−ESTT","t":800,"r":1.97},{"p":"b","m":"G−ESTT","t":850,"r":1.99},{"p":"b","m":"G−ESTT","t":900,"r":2.0},{"p":"b","m":"G−ESTT","t":950,"r":2.01},{"p":"b","m":"G−ESTT","t":1000,"r":2.0}
]},
"data": {"name": "d"},
"spacing": 15,
"resolve": {"scale": {"stroke": "shared", "fill": "shared", "shape": "shared", "strokeDash": "shared"}, "legend": {"stroke": "shared", "fill": "shared", "shape": "shared", "strokeDash": "shared"}},
"hconcat": [
 {
  "title": "dₐ = 10, dₓ = 100",
  "width": 356, "height": 236,
  "transform": [{"filter": "datum.p == 'a'"}],
  "layer": [
   {
    "mark": {"type": "line", "strokeWidth": 1.3, "clip": true},
    "encoding": {
     "x": {"field": "t", "type": "quantitative", "scale": {"domain": [-50, 1050], "nice": false, "zero": false}, "axis": {"orient": "top", "values": [125, 375, 625, 875], "labels": false, "ticks": false, "title": null, "gridWidth": 0.55}},
     "y": {"field": "r", "type": "quantitative", "scale": {"domain": [0.765, 3.47], "nice": false, "zero": false}, "axis": {"orient": "right", "values": [1.25, 1.75, 2.25, 2.75, 3.25], "labels": false, "ticks": false, "title": null, "gridWidth": 0.55}},
     "stroke": {"field": "m", "type": "nominal", "scale": {"domain": ["Hi−CCAB", "LinUCB", "Lasso Bandit", "NeuralUCB", "EE−Net", "G−ESTT"], "range": ["#F8766D", "#B79F00", "#00BA38", "#00BFC4", "#619CFF", "#F564E3"]},
      "legend": {"title": null, "orient": "none", "legendX": 39, "legendY": 278, "direction": "horizontal", "columns": 6}},
     "strokeDash": {"field": "m", "type": "nominal", "scale": {"domain": ["Hi−CCAB", "LinUCB", "Lasso Bandit", "NeuralUCB", "EE−Net", "G−ESTT"], "range": [[1, 0], [2.5, 2.5], [5, 2.5], [5.5, 4], [1.3, 3], [1.3, 3, 4.5, 3]]}, "legend": null}
    }
   },
   {
    "transform": [{"filter": "datum.t == 250 || datum.t == 500 || datum.t == 750 || datum.t == 1000"}],
    "mark": {"type": "point", "size": 50, "strokeWidth": 1.2, "opacity": 1},
    "encoding": {
     "x": {"field": "t", "type": "quantitative", "axis": {"orient": "bottom", "values": [0, 250, 500, 750, 1000], "format": "d", "title": "Time", "titlePadding": 2}},
     "y": {"field": "r", "type": "quantitative", "axis": {"orient": "left", "values": [1, 1.5, 2, 2.5, 3], "format": ".1f", "title": "Rπ(t)", "titlePadding": 4}},
     "stroke": {"field": "m", "type": "nominal"},
     "fill": {"field": "m", "type": "nominal", "scale": {"domain": ["Hi−CCAB", "LinUCB", "Lasso Bandit", "NeuralUCB", "EE−Net", "G−ESTT"], "range": ["transparent", "#B79F00", "#00BA38", "#00BFC4", "transparent", "transparent"]}},
     "shape": {"field": "m", "type": "nominal", "scale": {"domain": ["Hi−CCAB", "LinUCB", "Lasso Bandit", "NeuralUCB", "EE−Net", "G−ESTT"], "range": ["M-1.7,0L1.7,0M0,-1.7L0,1.7", "M-1.1,0A1.1,1.1 0 1 1 1.1,0A1.1,1.1 0 1 1 -1.1,0Z", "M0,-1.35L1.35,1L-1.35,1Z", "M-1.05,-1.05L1.05,-1.05L1.05,1.05L-1.05,1.05Z", "M-1.2,-1.2L1.2,1.2M-1.2,1.2L1.2,-1.2", "M-1.5,-1.1L1.5,-1.1L0,1.45Z"]}}
    }
   }
  ],
  "resolve": {"axis": {"x": "independent", "y": "independent"}}
 },
 {
  "title": "dₐ = 10, dₓ = 100, s₀ = 2",
  "width": 355, "height": 236,
  "transform": [{"filter": "datum.p == 'b'"}],
  "layer": [
   {
    "mark": {"type": "line", "strokeWidth": 1.3, "clip": true},
    "encoding": {
     "x": {"field": "t", "type": "quantitative", "scale": {"domain": [-50, 1050], "nice": false, "zero": false}, "axis": {"orient": "top", "values": [125, 375, 625, 875], "labels": false, "ticks": false, "title": null, "gridWidth": 0.55}},
     "y": {"field": "r", "type": "quantitative", "scale": {"domain": [0.3, 2.61], "nice": false, "zero": false}, "axis": {"orient": "right", "values": [0.75, 1.25, 1.75, 2.25], "labels": false, "ticks": false, "title": null, "gridWidth": 0.55}},
     "stroke": {"field": "m", "type": "nominal"},
     "strokeDash": {"field": "m", "type": "nominal", "legend": null}
    }
   },
   {
    "transform": [{"filter": "datum.t == 250 || datum.t == 500 || datum.t == 750 || datum.t == 1000"}],
    "mark": {"type": "point", "size": 50, "strokeWidth": 1.2, "opacity": 1},
    "encoding": {
     "x": {"field": "t", "type": "quantitative", "axis": {"orient": "bottom", "values": [0, 250, 500, 750, 1000], "format": "d", "title": "Time", "titlePadding": 2}},
     "y": {"field": "r", "type": "quantitative", "axis": {"orient": "left", "values": [0.5, 1, 1.5, 2, 2.5], "format": ".1f", "title": "Rπ(t)", "titlePadding": 4}},
     "stroke": {"field": "m", "type": "nominal"},
     "fill": {"field": "m", "type": "nominal"},
     "shape": {"field": "m", "type": "nominal"}
    }
   }
  ],
  "resolve": {"axis": {"x": "independent", "y": "independent"}}
 }
]
}
